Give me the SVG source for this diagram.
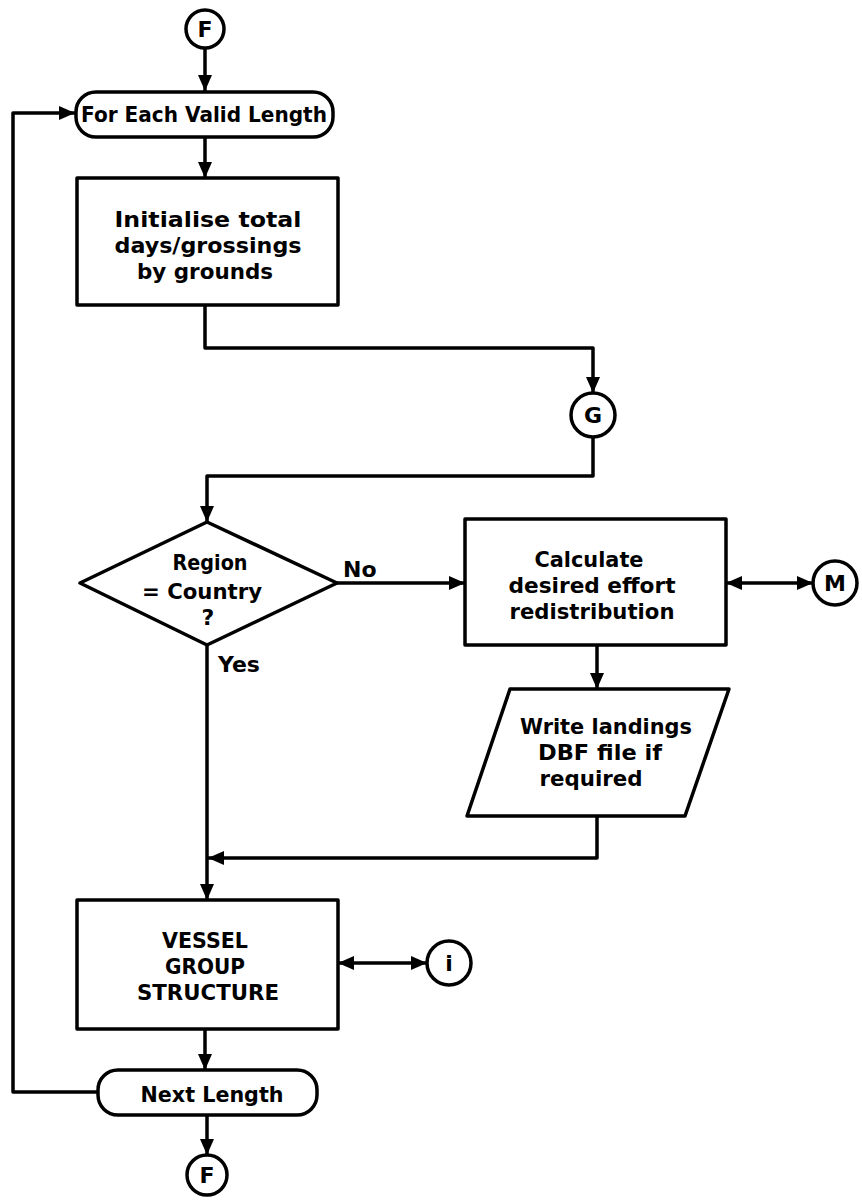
<svg xmlns="http://www.w3.org/2000/svg" width="862" height="1201" viewBox="0 0 862 1201">
  <defs>
    <marker id="arrow" viewBox="0 0 16 14" refX="16" refY="7" markerWidth="16" markerHeight="14" markerUnits="userSpaceOnUse" orient="auto-start-reverse">
      <path d="M0,0 L16,7 L0,14 Z" fill="#000"/>
    </marker>
    <style>
      .shape { fill: #fff; stroke: #000; stroke-width: 3.5; stroke-linejoin: round; }
      .wire { fill: none; stroke: #000; stroke-width: 3.5; stroke-linejoin: round; }
      .lbl { font-family: "DejaVu Sans", "Liberation Sans", sans-serif; font-weight: bold; font-size: 22px; fill: #000; text-anchor: middle; }
      .side { text-anchor: start; }
    </style>
  </defs>
  <rect width="862" height="1201" fill="#fff"/>

  <!-- connectors -->
  <g id="connectors">
    <path class="wire" d="M205,47 L205,91" marker-end="url(#arrow)"/>
    <path class="wire" d="M205,137 L205,178" marker-end="url(#arrow)"/>
    <path class="wire" d="M205,305 L205,348 L593,348 L593,393" marker-end="url(#arrow)"/>
    <path class="wire" d="M593,437 L593,476 L207,476 L207,522" marker-end="url(#arrow)"/>
    <path class="wire" d="M337,583 L465,583" marker-end="url(#arrow)"/>
    <path class="wire" d="M726,583 L813,583" marker-start="url(#arrow)" marker-end="url(#arrow)"/>
    <path class="wire" d="M597,645 L597,689" marker-end="url(#arrow)"/>
    <path class="wire" d="M597,816 L597,858 L208,858" marker-end="url(#arrow)"/>
    <path class="wire" d="M207,645 L207,900" marker-end="url(#arrow)"/>
    <path class="wire" d="M338,963 L427,963" marker-start="url(#arrow)" marker-end="url(#arrow)"/>
    <path class="wire" d="M205,1029 L205,1070" marker-end="url(#arrow)"/>
    <path class="wire" d="M98,1092 L13,1092 L13,113 L75,113" marker-end="url(#arrow)"/>
    <path class="wire" d="M207,1115 L207,1155" marker-end="url(#arrow)"/>
    <text class="lbl side" x="343" y="577">No</text>
    <text class="lbl side" x="218" y="672">Yes</text>
  </g>

  <!-- start connector F -->
  <g id="node-f-top">
    <circle class="shape" cx="205" cy="29" r="19"/>
    <text class="lbl" x="205" y="37">F</text>
  </g>

  <!-- loop header -->
  <g id="node-for-each">
    <rect class="shape" x="76" y="92" width="257" height="45" rx="20"/>
    <text class="lbl" x="204" y="122" textLength="246" lengthAdjust="spacingAndGlyphs">For Each Valid Length</text>
  </g>

  <g id="node-initialise">
    <rect class="shape" x="77" y="178" width="261" height="127"/>
    <text class="lbl" x="208" y="227" textLength="187" lengthAdjust="spacingAndGlyphs">Initialise total</text>
    <text class="lbl" x="208" y="253" textLength="187" lengthAdjust="spacingAndGlyphs">days/grossings</text>
    <text class="lbl" x="205" y="279" textLength="136" lengthAdjust="spacingAndGlyphs">by grounds</text>
  </g>

  <g id="node-g">
    <circle class="shape" cx="593" cy="415" r="22"/>
    <text class="lbl" x="593" y="423">G</text>
  </g>

  <g id="node-region">
    <path class="shape" d="M207,522 L337,583 L207,645 L80,583 Z"/>
    <text class="lbl" x="210" y="570" textLength="75" lengthAdjust="spacingAndGlyphs">Region</text>
    <text class="lbl" x="202" y="599" textLength="120" lengthAdjust="spacingAndGlyphs">= Country</text>
    <text class="lbl" x="208" y="625">?</text>
  </g>

  <g id="node-calculate">
    <rect class="shape" x="465" y="519" width="261" height="126"/>
    <text class="lbl" x="589" y="567" textLength="109" lengthAdjust="spacingAndGlyphs">Calculate</text>
    <text class="lbl" x="592" y="593" textLength="167" lengthAdjust="spacingAndGlyphs">desired effort</text>
    <text class="lbl" x="592" y="619" textLength="165" lengthAdjust="spacingAndGlyphs">redistribution</text>
  </g>

  <g id="node-m">
    <circle class="shape" cx="835" cy="583" r="22"/>
    <text class="lbl" x="835" y="591">M</text>
  </g>

  <g id="node-write">
    <path class="shape" d="M510,689 L729,689 L685,816 L467,816 Z"/>
    <text class="lbl" x="606" y="734" textLength="172" lengthAdjust="spacingAndGlyphs">Write landings</text>
    <text class="lbl" x="600" y="760" textLength="124" lengthAdjust="spacingAndGlyphs">DBF file if</text>
    <text class="lbl" x="591" y="786" textLength="103" lengthAdjust="spacingAndGlyphs">required</text>
  </g>

  <g id="node-vessel">
    <rect class="shape" x="77" y="900" width="261" height="129"/>
    <text class="lbl" x="205" y="948" textLength="86" lengthAdjust="spacingAndGlyphs">VESSEL</text>
    <text class="lbl" x="205" y="974" textLength="80" lengthAdjust="spacingAndGlyphs">GROUP</text>
    <text class="lbl" x="208" y="1000" textLength="142" lengthAdjust="spacingAndGlyphs">STRUCTURE</text>
  </g>

  <g id="node-i">
    <circle class="shape" cx="449" cy="963" r="22"/>
    <text class="lbl" x="449" y="971">i</text>
  </g>

  <g id="node-next">
    <rect class="shape" x="98" y="1070" width="219" height="45" rx="20"/>
    <text class="lbl" x="212" y="1102" textLength="143" lengthAdjust="spacingAndGlyphs">Next Length</text>
  </g>

  <!-- end connector F -->
  <g id="node-f-bottom">
    <circle class="shape" cx="207" cy="1175" r="20"/>
    <text class="lbl" x="207" y="1183">F</text>
  </g>
</svg>
